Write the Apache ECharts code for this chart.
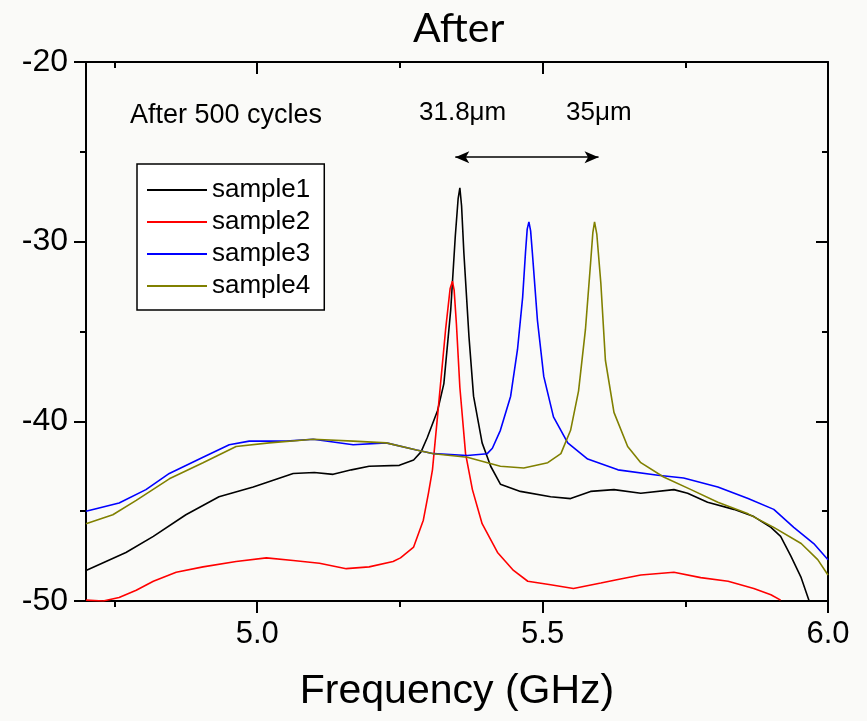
<!DOCTYPE html>
<html>
<head>
<meta charset="utf-8">
<script src="https://cdn.jsdelivr.net/npm/echarts@6/dist/echarts.min.js"></script>
<style>
  html, body { margin: 0; padding: 0; background: #fafaf8; }
  #chart { width: 867px; height: 721px; }
</style>
</head>
<body>
<div id="chart"></div>
<script>
// [frequency GHz, dB]
const sample1 = [
  [4.700,-48.3],[4.770,-47.3],[4.818,-46.4],[4.875,-45.2],[4.933,-44.2],[4.993,-43.65],
  [5.063,-42.9],[5.100,-42.85],[5.133,-42.95],[5.165,-42.7],[5.196,-42.5],[5.249,-42.45],
  [5.274,-42.15],[5.287,-41.7],[5.298,-40.9],[5.316,-39.4],[5.327,-37.9],[5.339,-33.8],
  [5.347,-29.7],[5.352,-27.6],[5.355,-27.0],[5.358,-28.0],[5.362,-30.6],[5.371,-35.3],
  [5.379,-38.6],[5.394,-41.2],[5.409,-42.5],[5.426,-43.5],[5.461,-43.9],[5.514,-44.2],
  [5.549,-44.3],[5.584,-43.9],[5.625,-43.8],[5.672,-44.0],[5.730,-43.8],[5.754,-44.0],
  [5.789,-44.5],[5.835,-44.9],[5.870,-45.3],[5.900,-45.9],[5.917,-46.4],[5.935,-47.5],
  [5.953,-48.7],[5.967,-50.0]
];
const sample2 = [
  [4.700,-49.95],[4.730,-50.0],[4.758,-49.8],[4.788,-49.4],[4.818,-48.9],[4.858,-48.4],
  [4.905,-48.1],[4.963,-47.8],[5.016,-47.6],[5.063,-47.75],[5.109,-47.9],[5.156,-48.2],
  [5.196,-48.1],[5.238,-47.8],[5.251,-47.6],[5.274,-47.0],[5.291,-45.5],[5.300,-44.0],
  [5.307,-42.7],[5.318,-39.0],[5.330,-34.9],[5.338,-32.6],[5.342,-32.2],[5.345,-32.7],
  [5.349,-34.6],[5.355,-38.1],[5.365,-41.8],[5.377,-43.8],[5.394,-45.7],[5.421,-47.3],
  [5.449,-48.3],[5.474,-48.9],[5.514,-49.1],[5.554,-49.3],[5.602,-49.0],[5.632,-48.8],
  [5.672,-48.55],[5.730,-48.4],[5.777,-48.7],[5.825,-48.9],[5.870,-49.3],[5.900,-49.65],
  [5.917,-49.95]
];
const sample3 = [
  [4.700,-45.0],[4.758,-44.55],[4.805,-43.8],[4.846,-42.9],[4.905,-42.0],[4.951,-41.3],
  [4.986,-41.1],[5.051,-41.1],[5.098,-41.0],[5.168,-41.3],[5.226,-41.2],[5.279,-41.6],
  [5.309,-41.8],[5.368,-41.9],[5.403,-41.8],[5.412,-41.5],[5.426,-40.5],[5.444,-38.6],
  [5.456,-36.0],[5.465,-33.1],[5.470,-30.6],[5.473,-29.3],[5.476,-28.9],[5.479,-29.4],
  [5.482,-30.6],[5.491,-34.4],[5.502,-37.5],[5.519,-39.75],[5.544,-41.2],[5.579,-42.1],
  [5.632,-42.7],[5.702,-43.0],[5.747,-43.15],[5.807,-43.65],[5.860,-44.3],[5.905,-44.9],
  [5.940,-45.9],[5.975,-46.8],[6.000,-47.7]
];
const sample4 = [
  [4.700,-45.7],[4.747,-45.2],[4.788,-44.4],[4.846,-43.2],[4.905,-42.3],[4.963,-41.4],
  [5.021,-41.2],[5.098,-41.0],[5.168,-41.1],[5.226,-41.2],[5.279,-41.6],[5.309,-41.8],
  [5.368,-42.0],[5.426,-42.5],[5.467,-42.6],[5.509,-42.3],[5.532,-41.8],[5.549,-40.5],
  [5.563,-38.3],[5.575,-34.9],[5.584,-31.2],[5.588,-29.5],[5.591,-28.9],[5.595,-29.6],
  [5.602,-32.3],[5.610,-36.6],[5.625,-39.5],[5.649,-41.4],[5.672,-42.3],[5.712,-43.1],
  [5.760,-43.8],[5.807,-44.5],[5.860,-45.15],[5.905,-45.9],[5.953,-46.8],[5.982,-47.7],
  [6.000,-48.55]
];

const names = ['sample1', 'sample2', 'sample3', 'sample4'];
const colors = ['#000000', '#ff0000', '#0000ff', '#808000'];
const xMajor = [5.0, 5.5, 6.0];
const xMinor = [4.75, 5.25, 5.75];
const arrowEnds = [[5.347, -25.3], [5.598, -25.3]];

const font = 'Liberation Sans, Arial, sans-serif';
const chart = echarts.init(document.getElementById('chart'));

const axisLine = { show: true, onZero: false, lineStyle: { color: '#000', width: 2 } };
const xAxisBase = { type: 'value', min: 4.7, max: 6.0, splitLine: { show: false } };

chart.setOption({
  backgroundColor: '#fafaf8',
  animation: false,
  title: {
    text: 'After',
    left: 408,
    top: 3,
    textStyle: { fontFamily: 'Lato, sans-serif', fontSize: 41, fontWeight: 'normal', color: '#000' }
  },
  legend: {
    data: names,
    orient: 'vertical',
    left: 137,
    top: 164,
    padding: [13, 14, 11, 10],
    itemGap: 6,
    itemWidth: 60,
    itemHeight: 2,
    icon: 'rect',
    borderColor: '#000',
    borderWidth: 1.5,
    backgroundColor: '#fff',
    textStyle: { fontFamily: font, fontSize: 26, color: '#000', lineHeight: 26 }
  },
  grid: { left: 86, right: 39, top: 62, bottom: 120 },
  xAxis: [
    Object.assign({}, xAxisBase, {
      position: 'bottom',
      axisLine: axisLine,
      axisTick: { show: true, inside: false, length: 12, customValues: xMajor, lineStyle: { color: '#000', width: 2 } },
      axisLabel: { customValues: xMajor, margin: 18, fontFamily: font, fontSize: 31, color: '#000',
        formatter: v => v.toFixed(1) },
      name: 'Frequency (GHz)',
      nameLocation: 'middle',
      nameGap: 70,
      nameTextStyle: { fontFamily: font, fontSize: 41, color: '#000' }
    }),
    Object.assign({}, xAxisBase, {
      position: 'bottom',
      axisLine: { show: false },
      axisTick: { show: true, inside: false, length: 6, customValues: xMinor, lineStyle: { color: '#000', width: 2 } },
      axisLabel: { show: false }
    }),
    Object.assign({}, xAxisBase, {
      position: 'top',
      axisLine: axisLine,
      axisTick: { show: true, inside: true, length: 12, customValues: xMajor, lineStyle: { color: '#000', width: 2 } },
      axisLabel: { show: false }
    }),
    Object.assign({}, xAxisBase, {
      position: 'top',
      axisLine: { show: false },
      axisTick: { show: true, inside: true, length: 6, customValues: xMinor, lineStyle: { color: '#000', width: 2 } },
      axisLabel: { show: false }
    })
  ],
  yAxis: [
    {
      type: 'value', min: -50, max: -20, interval: 10, position: 'left',
      axisLine: axisLine,
      axisTick: { show: true, inside: false, length: 12, lineStyle: { color: '#000', width: 2 } },
      minorTick: { show: true, splitNumber: 2, length: 6, lineStyle: { color: '#000', width: 2 } },
      axisLabel: { margin: 18, fontFamily: font, fontSize: 32, color: '#000' },
      splitLine: { show: false }
    },
    {
      type: 'value', min: -50, max: -20, interval: 10, position: 'right',
      axisLine: axisLine,
      axisTick: { show: true, inside: true, length: 12, lineStyle: { color: '#000', width: 2 } },
      minorTick: { show: true, splitNumber: 2, length: 6, lineStyle: { color: '#000', width: 2 } },
      axisLabel: { show: false },
      splitLine: { show: false }
    }
  ],
  series: [sample1, sample2, sample3, sample4].map((d, i) => ({
    name: names[i],
    type: 'line',
    data: d,
    symbol: 'none',
    clip: true,
    color: colors[i],
    itemStyle: { color: colors[i] },
    lineStyle: { color: colors[i], width: 1.6 }
  })).concat([{
    name: 'arrow',
    type: 'line',
    data: [],
    silent: true,
    markLine: {
      silent: true,
      animation: false,
      symbol: ['arrow', 'arrow'],
      symbolSize: [9, 14],
      label: { show: false },
      lineStyle: { color: '#000', width: 1.6, type: 'solid' },
      data: [[{ coord: arrowEnds[0] }, { coord: arrowEnds[1] }]]
    }
  }]),
  graphic: [
    { type: 'text', left: 130, top: 102, style: { text: 'After 500 cycles', font: '27px ' + font, fill: '#000' } },
    { type: 'text', left: 419, top: 100, style: { text: '31.8μm', font: '26px ' + font, fill: '#000' } },
    { type: 'text', left: 566, top: 100, style: { text: '35μm', font: '26px ' + font, fill: '#000' } }
  ]
});
</script>
</body>
</html>
